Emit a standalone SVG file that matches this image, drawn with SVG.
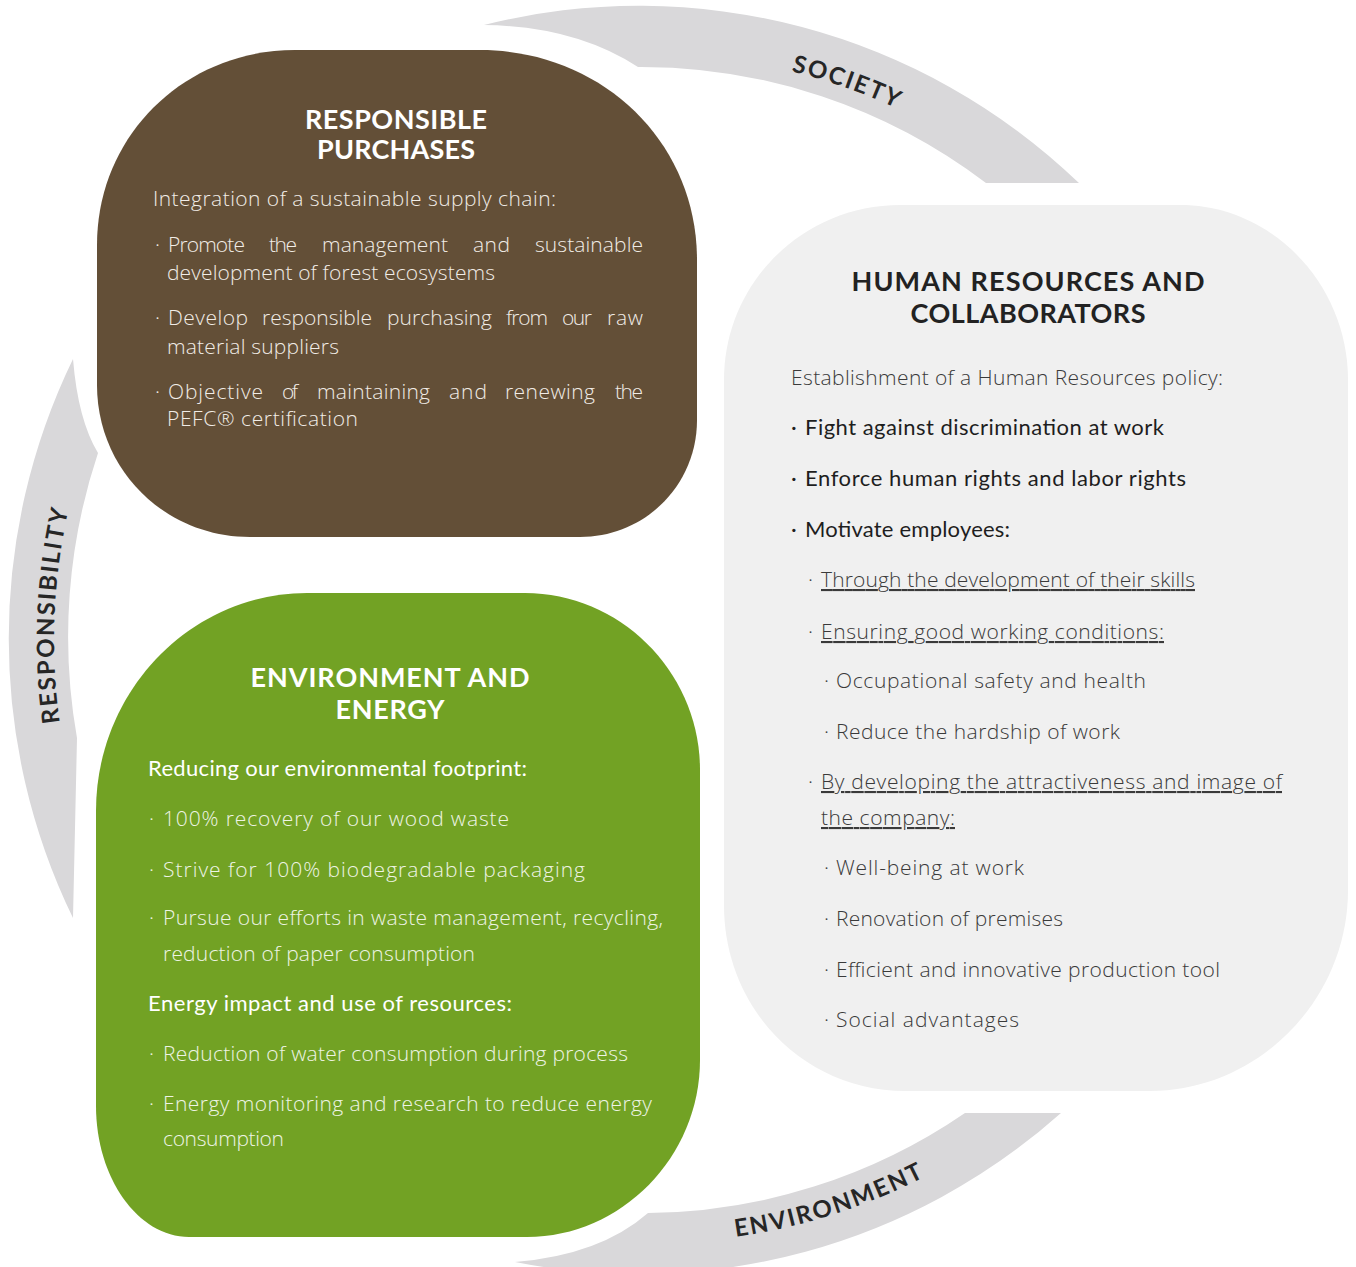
<svg xmlns="http://www.w3.org/2000/svg" width="1356" height="1267" viewBox="0 0 1356 1267">
<style>
.band{fill:#d9d8da}
.bandtxt{font-family:"Lato","Open Sans","Liberation Sans",sans-serif;font-weight:700;font-size:24px;letter-spacing:2px;fill:#262626}
.ttl{font-family:"Lato","Open Sans","Liberation Sans",sans-serif;font-weight:700;font-size:27px;letter-spacing:2px;text-anchor:middle}
.body{font-family:"Open Sans","Lato","Liberation Sans",sans-serif;font-weight:300;font-size:21px}
.reg{font-family:"Lato","Open Sans","Liberation Sans",sans-serif;font-weight:400;font-size:22px}
.wb{fill:#f1ece6}
.wg{fill:#eef4e4}
.dk{fill:#3a3a3a}
.dk2{fill:#1e1e1e}
.ul{text-decoration:underline}
</style>
<defs>
<path id="pSociety" d="M543.2,63.8 A586,586 0 0 1 1095.6,259.4"/>
<path id="pEnv" d="M521.6,1229.1 A603,603 0 0 0 1096,1045.8"/>
<path id="pResp" d="M121.8,916.1 A596,596 0 0 1 146.8,320.7"/>
</defs>
<rect width="1356" height="1267" fill="#ffffff"/>
<g id="connectors">
<path class="band" d="M484,25 A635,635 0 0 1 1079,183 L986,183 A570,570 0 0 0 638,67 Q575,26 484,25 Z"/>
<path class="band" d="M1061,1113 A635,635 0 0 1 515,1262 Q600,1255 648,1213 A570,570 0 0 0 965,1113 Z"/>
<path class="band" d="M73,359 A640,640 0 0 0 73,918 L77,738 A580,580 0 0 1 98,453 Q78,420 73,359 Z"/>
<text class="bandtxt"><textPath href="#pSociety" startOffset="50%" text-anchor="middle">SOCIETY</textPath></text>
<text class="bandtxt"><textPath href="#pEnv" startOffset="50%" text-anchor="middle">ENVIRONMENT</textPath></text>
<text class="bandtxt"><textPath href="#pResp" startOffset="50%" text-anchor="middle">RESPONSIBILITY</textPath></text>
</g>
<g id="node-purchases">
<path fill="#634f37" d="M97,245 C97,135 185,50 295,50 L480,50 C600,50 697,140 697,260 L697,420 C697,485 645,537 580,537 L250,537 C165,537 97,470 97,385 Z"/>
<text class="ttl" fill="#ffffff" x="397" y="129" textLength="184">RESPONSIBLE</text>
<text class="ttl" fill="#ffffff" x="397" y="159" textLength="160">PURCHASES</text>
<text class="body wb" x="153" y="206" textLength="403">Integration of a sustainable supply chain:</text>
<text class="body wb" x="155" y="252">·</text>
<text class="body wb" x="168" y="252" textLength="77">Promote</text>
<text class="body wb" x="269" y="252" textLength="28">the</text>
<text class="body wb" x="322" y="252" textLength="126">management</text>
<text class="body wb" x="473" y="252" textLength="37">and</text>
<text class="body wb" x="535" y="252" textLength="108">sustainable</text>
<text class="body wb" x="167" y="280" textLength="328">development of forest ecosystems</text>
<text class="body wb" x="155" y="325">·</text>
<text class="body wb" x="168" y="325" textLength="80">Develop</text>
<text class="body wb" x="262" y="325" textLength="110">responsible</text>
<text class="body wb" x="387" y="325" textLength="105">purchasing</text>
<text class="body wb" x="506" y="325" textLength="42">from</text>
<text class="body wb" x="562" y="325" textLength="30">our</text>
<text class="body wb" x="607" y="325" textLength="36">raw</text>
<text class="body wb" x="167" y="354" textLength="172">material suppliers</text>
<text class="body wb" x="155" y="399">·</text>
<text class="body wb" x="168" y="399" textLength="95">Objective</text>
<text class="body wb" x="282" y="399" textLength="16">of</text>
<text class="body wb" x="317" y="399" textLength="113">maintaining</text>
<text class="body wb" x="449" y="399" textLength="38">and</text>
<text class="body wb" x="505" y="399" textLength="90">renewing</text>
<text class="body wb" x="615" y="399" textLength="28">the</text>
<text class="body wb" x="167" y="426" textLength="191">PEFC® certification</text>
</g>
<g id="node-hr">
<path fill="#f0f0f0" d="M724,380 C724,283 803,205 900,205 L1180,205 C1273,205 1348,285 1348,380 L1348,890 C1348,1000 1258,1091 1150,1091 L905,1091 C805,1091 724,1010 724,905 Z"/>
<text class="ttl" fill="#222222" x="1029" y="291" textLength="355">HUMAN RESOURCES AND</text>
<text class="ttl" fill="#222222" x="1029" y="323" textLength="237">COLLABORATORS</text>
<text class="body dk" x="791" y="385" textLength="432">Establishment of a Human Resources policy:</text>
<text class="reg dk2" x="791" y="435">·</text><text class="reg dk2" x="805" y="435" textLength="359">Fight against discrimination at work</text>
<text class="reg dk2" x="791" y="486">·</text><text class="reg dk2" x="805" y="486" textLength="381">Enforce human rights and labor rights</text>
<text class="reg dk2" x="791" y="537">·</text><text class="reg dk2" x="805" y="537" textLength="205">Motivate employees:</text>
<text class="body dk" x="808" y="587">·</text><text class="body dk ul" x="821" y="587" textLength="374">Through the development of their skills</text>
<text class="body dk" x="808" y="639">·</text><text class="body dk ul" x="821" y="639" textLength="343">Ensuring good working conditions:</text>
<text class="body dk" x="824" y="688">·</text><text class="body dk" x="836" y="688" textLength="310">Occupational safety and health</text>
<text class="body dk" x="824" y="739">·</text><text class="body dk" x="836" y="739" textLength="284">Reduce the hardship of work</text>
<text class="body dk" x="808" y="789">·</text><text class="body dk ul" x="821" y="789" textLength="461">By developing the attractiveness and image of</text>
<text class="body dk ul" x="821" y="825" textLength="134">the company:</text>
<text class="body dk" x="824" y="875">·</text><text class="body dk" x="836" y="875" textLength="188">Well-being at work</text>
<text class="body dk" x="824" y="926">·</text><text class="body dk" x="836" y="926" textLength="227">Renovation of premises</text>
<text class="body dk" x="824" y="977">·</text><text class="body dk" x="836" y="977" textLength="384">Efficient and innovative production tool</text>
<text class="body dk" x="824" y="1027">·</text><text class="body dk" x="836" y="1027" textLength="183">Social advantages</text>
</g>
<g id="node-environment">
<path fill="#72a224" d="M96,811 C96,691 191,593 307,593 L525,593 C621,593 700,673 700,770 L700,1060 C700,1157 621,1237 527,1237 L189,1237 C138,1237 96,1178 96,1106 Z"/>
<text class="ttl" fill="#ffffff" x="391" y="687" textLength="281">ENVIRONMENT AND</text>
<text class="ttl" fill="#ffffff" x="391" y="719" textLength="111">ENERGY</text>
<text class="reg" fill="#ffffff" x="148" y="776" textLength="379">Reducing our environmental footprint:</text>
<text class="body wg" x="149" y="826">·</text><text class="body wg" x="163" y="826" textLength="346">100% recovery of our wood waste</text>
<text class="body wg" x="149" y="877">·</text><text class="body wg" x="163" y="877" textLength="422">Strive for 100% biodegradable packaging</text>
<text class="body wg" x="149" y="925">·</text><text class="body wg" x="163" y="925" textLength="500">Pursue our efforts in waste management, recycling,</text>
<text class="body wg" x="163" y="961" textLength="312">reduction of paper consumption</text>
<text class="reg" fill="#ffffff" x="148" y="1011" textLength="364">Energy impact and use of resources:</text>
<text class="body wg" x="149" y="1061">·</text><text class="body wg" x="163" y="1061" textLength="465">Reduction of water consumption during process</text>
<text class="body wg" x="149" y="1111">·</text><text class="body wg" x="163" y="1111" textLength="489">Energy monitoring and research to reduce energy</text>
<text class="body wg" x="163" y="1146" textLength="121">consumption</text>
</g>
</svg>
